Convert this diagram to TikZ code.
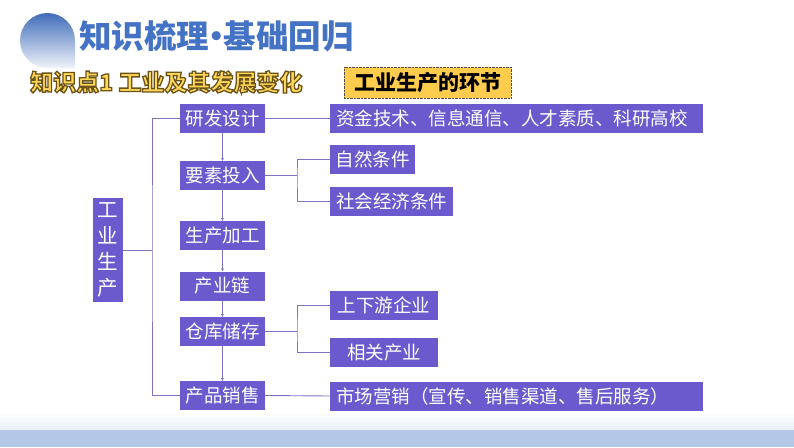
\documentclass[tikz,border=0pt]{standalone}
\usepackage{fontspec}
\setmainfont{Noto Sans CJK SC}
\usetikzlibrary{arrows.meta}
\definecolor{boxc}{HTML}{6A5ACD}
\definecolor{linec}{HTML}{7E74C4}
\definecolor{titleblue}{HTML}{4472C4}
\definecolor{subyel}{HTML}{FFD85A}
\definecolor{tagyel}{HTML}{FFCC4D}
\definecolor{band}{HTML}{B4C7E7}
\newcommand{\outlinetext}[1]{\special{pdf:literal direct 2 Tr 1.3 w 0.42 0.32 0.09 RG}#1\special{pdf:literal direct 0 Tr}}
\tikzset{
  mainbox/.style={fill=boxc, text=white, minimum width=85pt, minimum height=29pt, inner sep=0pt, font=\fontsize{18.5}{20}\selectfont},
  sidebox/.style={fill=boxc, text=white, minimum height=29pt, inner sep=0pt, anchor=west, font=\fontsize{18.5}{20}\selectfont},
  widebox/.style={sidebox, text width=361pt, inner xsep=6pt, align=left},
  conn/.style={draw=linec, line width=0.9pt},
  flow/.style={conn, -{Stealth[length=3pt,width=3pt]}},
}
\begin{document}
\begin{tikzpicture}[x=1pt,y=-1pt]
\useasboundingbox (0,0) rectangle (794,447);
\fill[white] (0,0) rectangle (794,447);
% bottom band
\shade[top color=white, bottom color=band!30] (0,412) rectangle (794,430);
\fill[band] (0,430) rectangle (794,447);
% title icon
\shade[top color=titleblue!95!black, bottom color=titleblue!8] (75,40.5) arc[start angle=0,end angle=270,radius=27.5pt] -- (75,68) -- cycle;
\node[anchor=west, text=titleblue, font=\fontsize{32.5}{34}\selectfont\bfseries, inner sep=0pt] (title) at (79,36) {知识梳理\kern-9pt·\kern-9pt基础回归};
% subtitle with outline
\node[anchor=west, text=subyel, font=\fontsize{23}{25}\selectfont\bfseries, inner sep=0pt] (sub) at (30,82) {\outlinetext{知识点1 工业及其发展变化}};
% tag
\node[fill=tagyel, draw=black!70, densely dotted, minimum width=167pt, minimum height=31pt, inner sep=0pt, font=\fontsize{21}{23}\selectfont\bfseries] (tag) at (427.5,82.5) {工业生产的环节};
% left box
\node[fill=boxc, text=white, minimum width=30pt, minimum height=104pt, inner sep=0pt, align=center, font=\fontsize{20.5}{26}\selectfont] (root) at (108,250) {工\\业\\生\\产};
% main column
\node[mainbox] (m1) at (222.5,118.5) {研发设计};
\node[mainbox] (m2) at (222.5,175.5) {要素投入};
\node[mainbox] (m3) at (222.5,235.5) {生产加工};
\node[mainbox] (m4) at (222.5,286) {产业链};
\node[mainbox] (m5) at (222.5,331.5) {仓库储存};
\node[mainbox] (m6) at (222.5,395.5) {产品销售};
% side boxes
\node[widebox] (s1) at (330,118.5) {资金技术、信息通信、人才素质、科研高校};
\node[sidebox, minimum width=85pt] (s2) at (330,159.5) {自然条件};
\node[sidebox, minimum width=123pt] (s3) at (330,201.5) {社会经济条件};
\node[sidebox, minimum width=108pt] (s4) at (330,305) {上下游企业};
\node[sidebox, minimum width=108pt] (s5) at (330,352.5) {相关产业};
\node[widebox] (s6) at (330,396) {市场营销（宣传、销售渠道、售后服务）};
% coordinates
\coordinate (bx) at (152,250);
\coordinate (b2) at (297,175.5);
\coordinate (b5) at (297,331.5);
% root bracket
\draw[conn] (root.east) -- (bx);
\draw[conn] (m1.west) -| (bx) |- (m6.west);
% flow arrows
\draw[flow] (m1) -- (m2);
\draw[flow] (m2) -- (m3);
\draw[flow] (m3) -- (m4);
\draw[flow] (m4) -- (m5);
\draw[flow] (m5) -- (m6);
% right connectors
\draw[conn] (m1.east) -- (s1.west);
\draw[conn] (m2.east) -- (b2);
\draw[conn] (s2.west) -| (b2) |- (s3.west);
\draw[conn] (m5.east) -- (b5);
\draw[conn] (s4.west) -| (b5) |- (s5.west);
\draw[conn] (m6.east) -- (s6.west);
\end{tikzpicture}
\end{document}
